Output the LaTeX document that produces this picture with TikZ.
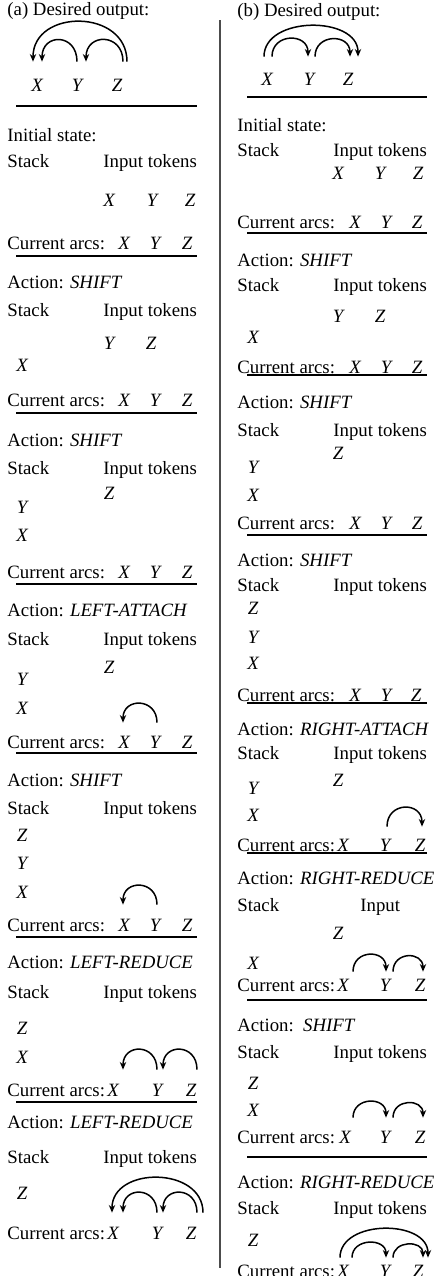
\documentclass[tikz,border=0pt]{standalone}
\usepackage{fontspec}
\setmainfont{Liberation Serif}
\usetikzlibrary{arrows.meta}

\tikzset{
    txt/.style={anchor=west, inner sep=0pt, text height=6pt, text depth=0pt},
    tok/.style={inner sep=0pt, text height=6pt, text depth=0pt, font=\itshape},
    rule/.style={line width=0.7pt},
    dep/.style={line width=0.75pt, -{Stealth[length=3.8pt,width=3.2pt]}},
}

\begin{document}
\fontsize{9.4}{11}\selectfont
\begin{tikzpicture}[x=0.5pt, y=-0.5pt]
    \useasboundingbox (0,0) rectangle (435,1276);
    \clip (0,0) rectangle (435,1276);

    % (a) left column
    \node[txt] at (7,9) (aHead) {(a) Desired output:};
    \node[tok] at (37,85) (aDx) {X};
    \node[tok] at (77,85) (aDy) {Y};
    \node[tok] at (117,85) (aDz) {Z};
    \draw[dep] ([shift={(0,-17)}]aDy.north) to[out=90, in=90, looseness=2.1] ([shift={(5,-17)}]aDx.north);
    \draw[dep] ([shift={(6,-17)}]aDz.north) to[out=90, in=90, looseness=2] ([shift={(9,-17)}]aDy.north);
    \draw[dep] ([shift={(10,-17)}]aDz.north) to[out=90, in=90, looseness=1.45] ([shift={(-4,-17)}]aDx.north);
    \draw[rule] (16,106) -- (197,106);

    \node[txt] at (7,135) (a0act) {Initial state:};
    \node[txt] at (7,161) (a0stk) {Stack};
    \node[txt] at (103,161) (a0in) {Input tokens};
    \node[tok] at (109,200) (a0ix) {X};
    \node[tok] at (152,200) (a0iy) {Y};
    \node[tok] at (190,200) (a0iz) {Z};
    \node[txt] at (7,243) (a0cur) {Current arcs:};
    \node[tok] at (124,243) (a0x) {X};
    \node[tok] at (155,243) (a0y) {Y};
    \node[tok] at (187,243) (a0z) {Z};
    \draw[rule] (16,256) -- (197,256);

    \node[txt] at (7,282) (a1act) {Action: \textit{SHIFT}};
    \node[txt] at (7,310) (a1stk) {Stack};
    \node[txt] at (103,310) (a1in) {Input tokens};
    \node[tok] at (109,343) (a1iy) {Y};
    \node[tok] at (151,343) (a1iz) {Z};
    \node[tok] at (22,365) (a1s1) {X};
    \node[txt] at (7,400) (a1cur) {Current arcs:};
    \node[tok] at (124,400) (a1x) {X};
    \node[tok] at (155,400) (a1y) {Y};
    \node[tok] at (187,400) (a1z) {Z};
    \draw[rule] (16,413) -- (197,413);

    \node[txt] at (7,440) (a2act) {Action: \textit{SHIFT}};
    \node[txt] at (7,468) (a2stk) {Stack};
    \node[txt] at (103,468) (a2in) {Input tokens};
    \node[tok] at (109,493) (a2iz) {Z};
    \node[tok] at (22,507) (a2s2) {Y};
    \node[tok] at (22,535) (a2s1) {X};
    \node[txt] at (7,572) (a2cur) {Current arcs:};
    \node[tok] at (124,572) (a2x) {X};
    \node[tok] at (155,572) (a2y) {Y};
    \node[tok] at (187,572) (a2z) {Z};
    \draw[rule] (16,584) -- (197,584);

    \node[txt] at (7,610) (a3act) {Action: \textit{LEFT-ATTACH}};
    \node[txt] at (7,639) (a3stk) {Stack};
    \node[txt] at (103,639) (a3in) {Input tokens};
    \node[tok] at (109,667) (a3iz) {Z};
    \node[tok] at (22,679) (a3s2) {Y};
    \node[tok] at (22,708) (a3s1) {X};
    \node[txt] at (7,742) (a3cur) {Current arcs:};
    \node[tok] at (124,742) (a3x) {X};
    \node[tok] at (155,742) (a3y) {Y};
    \node[tok] at (187,742) (a3z) {Z};
    \draw[dep] ([shift={(2,-13)}]a3y.north) to[out=90, in=90, looseness=1.9] ([shift={(-1,-13)}]a3x.north);
    \draw[rule] (16,753) -- (197,753);

    \node[txt] at (7,780) (a4act) {Action: \textit{SHIFT}};
    \node[txt] at (7,808) (a4stk) {Stack};
    \node[txt] at (103,808) (a4in) {Input tokens};
    \node[tok] at (22,835) (a4s3) {Z};
    \node[tok] at (22,863) (a4s2) {Y};
    \node[tok] at (22,892) (a4s1) {X};
    \node[txt] at (7,925) (a4cur) {Current arcs:};
    \node[tok] at (124,925) (a4x) {X};
    \node[tok] at (155,925) (a4y) {Y};
    \node[tok] at (187,925) (a4z) {Z};
    \draw[dep] ([shift={(2,-14)}]a4y.north) to[out=90, in=90, looseness=1.9] ([shift={(-1,-14)}]a4x.north);
    \draw[rule] (16,937) -- (197,937);

    \node[txt] at (7,962) (a5act) {Action: \textit{LEFT-REDUCE}};
    \node[txt] at (7,992) (a5stk) {Stack};
    \node[txt] at (103,992) (a5in) {Input tokens};
    \node[tok] at (22,1028) (a5s2) {Z};
    \node[tok] at (22,1057) (a5s1) {X};
    \node[txt] at (7,1090) (a5cur) {Current arcs:};
    \node[tok] at (113,1090) (a5x) {X};
    \node[tok] at (157,1090) (a5y) {Y};
    \node[tok] at (191,1090) (a5z) {Z};
    \draw[dep] ([shift={(0,-14)}]a5y.north) to[out=90, in=90, looseness=2] ([shift={(10,-14)}]a5x.north);
    \draw[dep] ([shift={(6,-14)}]a5z.north) to[out=90, in=90, looseness=2] ([shift={(6,-14)}]a5y.north);
    \draw[rule] (16,1102) -- (197,1102);

    \node[txt] at (7,1122) (a6act) {Action: \textit{LEFT-REDUCE}};
    \node[txt] at (7,1157) (a6stk) {Stack};
    \node[txt] at (103,1157) (a6in) {Input tokens};
    \node[tok] at (22,1193) (a6s1) {Z};
    \node[txt] at (7,1233) (a6cur) {Current arcs:};
    \node[tok] at (113,1233) (a6x) {X};
    \node[tok] at (157,1233) (a6y) {Y};
    \node[tok] at (191,1233) (a6z) {Z};
    \draw[dep] ([shift={(0,-14)}]a6y.north) to[out=90, in=90, looseness=2] ([shift={(10,-14)}]a6x.north);
    \draw[dep] ([shift={(6,-14)}]a6z.north) to[out=90, in=90, looseness=2] ([shift={(6,-14)}]a6y.north);
    \draw[dep] ([shift={(12,-14)}]a6z.north) to[out=90, in=90, looseness=1.31] ([shift={(-1,-14)}]a6x.north);

    % divider
    \draw[line width=1pt, black!70] (220,20) -- (220,1268);

    % (b) right column
    \node[txt] at (237,10) (bHead) {(b) Desired output:};
    \node[tok] at (267,79) (bDx) {X};
    \node[tok] at (309,79) (bDy) {Y};
    \node[tok] at (348,79) (bDz) {Z};
    \draw[dep] ([shift={(5,-16)}]bDx.north) to[out=90, in=90, looseness=1.7] ([shift={(-1,-16)}]bDy.north);
    \draw[dep] ([shift={(6,-16)}]bDy.north) to[out=90, in=90, looseness=1.7] ([shift={(2,-16)}]bDz.north);
    \draw[dep] ([shift={(-3,-16)}]bDx.north) to[out=90, in=90, looseness=1.12] ([shift={(10,-16)}]bDz.north);
    \draw[rule] (247,97) -- (427,97);

    \node[txt] at (237,125) (b0act) {Initial state:};
    \node[txt] at (237,150) (b0stk) {Stack};
    \node[txt] at (333,150) (b0in) {Input tokens};
    \node[tok] at (338,173) (b0ix) {X};
    \node[tok] at (380,173) (b0iy) {Y};
    \node[tok] at (418,173) (b0iz) {Z};
    \node[txt] at (237,222) (b0cur) {Current arcs:};
    \node[tok] at (355,222) (b0x) {X};
    \node[tok] at (386,222) (b0y) {Y};
    \node[tok] at (417,222) (b0z) {Z};
    \draw[rule] (247,233) -- (427,233);

    \node[txt] at (237,260) (b1act) {Action: \textit{SHIFT}};
    \node[txt] at (237,285) (b1stk) {Stack};
    \node[txt] at (333,285) (b1in) {Input tokens};
    \node[tok] at (338,316) (b1iy) {Y};
    \node[tok] at (380,316) (b1iz) {Z};
    \node[tok] at (253,337) (b1s1) {X};
    \node[txt] at (237,367) (b1cur) {Current arcs:};
    \node[tok] at (355,367) (b1x) {X};
    \node[tok] at (386,367) (b1y) {Y};
    \node[tok] at (417,367) (b1z) {Z};
    \draw[rule] (247,375) -- (427,375);

    \node[txt] at (237,402) (b2act) {Action: \textit{SHIFT}};
    \node[txt] at (237,430) (b2stk) {Stack};
    \node[txt] at (333,430) (b2in) {Input tokens};
    \node[tok] at (338,453) (b2iz) {Z};
    \node[tok] at (253,467) (b2s2) {Y};
    \node[tok] at (253,495) (b2s1) {X};
    \node[txt] at (237,523) (b2cur) {Current arcs:};
    \node[tok] at (355,523) (b2x) {X};
    \node[tok] at (386,523) (b2y) {Y};
    \node[tok] at (417,523) (b2z) {Z};
    \draw[rule] (247,535) -- (427,535);

    \node[txt] at (237,560) (b3act) {Action: \textit{SHIFT}};
    \node[txt] at (237,585) (b3stk) {Stack};
    \node[txt] at (333,585) (b3in) {Input tokens};
    \node[tok] at (253,608) (b3s3) {Z};
    \node[tok] at (253,637) (b3s2) {Y};
    \node[tok] at (253,663) (b3s1) {X};
    \node[txt] at (237,695) (b3cur) {Current arcs:};
    \node[tok] at (355,695) (b3x) {X};
    \node[tok] at (386,695) (b3y) {Y};
    \node[tok] at (416,695) (b3z) {Z};
    \draw[rule] (247,703) -- (427,703);

    \node[txt] at (237,729) (b4act) {Action: \textit{RIGHT-ATTACH}};
    \node[txt] at (237,753) (b4stk) {Stack};
    \node[txt] at (333,753) (b4in) {Input tokens};
    \node[tok] at (338,780) (b4iz) {Z};
    \node[tok] at (253,788) (b4s2) {Y};
    \node[tok] at (253,815) (b4s1) {X};
    \node[txt] at (237,845) (b4cur) {Current arcs:};
    \node[tok] at (343,845) (b4x) {X};
    \node[tok] at (385,845) (b4y) {Y};
    \node[tok] at (420,845) (b4z) {Z};
    \draw[dep] ([shift={(2,-12)}]b4y.north) to[out=90, in=90, looseness=1.85] ([shift={(2,-12)}]b4z.north);
    \draw[rule] (247,853) -- (427,853);

    \node[txt] at (237,878) (b5act) {Action: \textit{RIGHT-REDUCE}};
    \node[txt] at (237,905) (b5stk) {Stack};
    \node[txt] at (360,905) (b5in) {Input};
    \node[tok] at (338,933) (b5iz) {Z};
    \node[tok] at (253,963) (b5s1) {X};
    \node[txt] at (237,985) (b5cur) {Current arcs:};
    \node[tok] at (343,985) (b5x) {X};
    \node[tok] at (385,985) (b5y) {Y};
    \node[tok] at (420,985) (b5z) {Z};
    \draw[dep] ([shift={(10,-7)}]b5x.north) to[out=90, in=90, looseness=1.75] ([shift={(1,-7)}]b5y.north);
    \draw[dep] ([shift={(8,-7)}]b5y.north) to[out=90, in=90, looseness=1.75] ([shift={(3,-7)}]b5z.north);
    \draw[rule] (247,1000) -- (427,1000);

    \node[txt] at (237,1025) (b6act) {Action:\ \ \textit{SHIFT}};
    \node[txt] at (237,1052) (b6stk) {Stack};
    \node[txt] at (333,1052) (b6in) {Input tokens};
    \node[tok] at (253,1083) (b6s2) {Z};
    \node[tok] at (253,1110) (b6s1) {X};
    \node[txt] at (237,1137) (b6cur) {Current arcs:};
    \node[tok] at (345,1137) (b6x) {X};
    \node[tok] at (385,1137) (b6y) {Y};
    \node[tok] at (420,1137) (b6z) {Z};
    \draw[dep] ([shift={(8,-13)}]b6x.north) to[out=90, in=90, looseness=1.65] ([shift={(1,-13)}]b6y.north);
    \draw[dep] ([shift={(8,-13)}]b6y.north) to[out=90, in=90, looseness=1.65] ([shift={(3,-13)}]b6z.north);
    \draw[rule] (247,1157) -- (427,1157);

    \node[txt] at (237,1182) (b7act) {Action: \textit{RIGHT-REDUCE}};
    \node[txt] at (237,1208) (b7stk) {Stack};
    \node[txt] at (333,1208) (b7in) {Input tokens};
    \node[tok] at (253,1240) (b7s1) {Z};
    \node[txt] at (237,1271) (b7cur) {Current arcs:};
    \node[tok] at (343,1271) (b7x) {X};
    \node[tok] at (385,1271) (b7y) {Y};
    \node[tok] at (418,1271) (b7z) {Z};
    \draw[dep] ([shift={(9,-7)}]b7x.north) to[out=90, in=90, looseness=1.5] ([shift={(1,-7)}]b7y.north);
    \draw[dep] ([shift={(8,-7)}]b7y.north) to[out=90, in=90, looseness=1.5] ([shift={(5,-7)}]b7z.north);
    \draw[dep] ([shift={(-3,-7)}]b7x.north) to[out=90, in=90, looseness=1.12] ([shift={(10,-7)}]b7z.north);
\end{tikzpicture}
\end{document}
